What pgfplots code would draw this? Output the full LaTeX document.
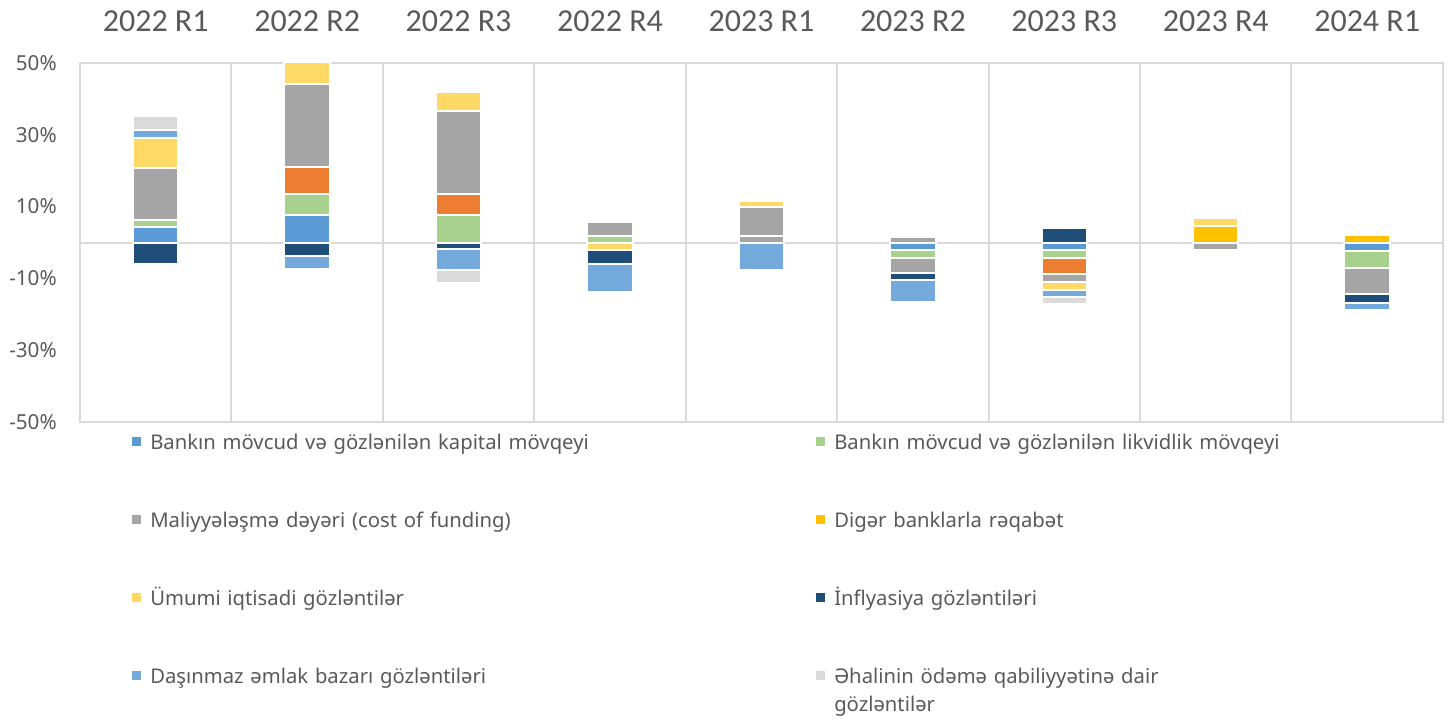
\documentclass[border=0pt]{standalone}
\usepackage{pgfplots}
\pgfplotsset{compat=1.18}
\usepackage{pgfplotstable}
\usepackage{fontspec}
\setmainfont{Noto Sans}
\newfontfamily\carlito{Carlito}
\definecolor{txt}{HTML}{595959}
\definecolor{grd}{HTML}{D9D9D9}
\definecolor{ckap}{HTML}{5B9BD5}
\definecolor{clik}{HTML}{A9D18E}
\definecolor{cora}{HTML}{ED7D31}
\definecolor{ccost}{HTML}{A5A5A5}
\definecolor{creq}{HTML}{FFC000}
\definecolor{cumu}{HTML}{FFD966}
\definecolor{cinf}{HTML}{1F4E79}
\definecolor{cdas}{HTML}{74A9DB}
\definecolor{ceha}{HTML}{DADADA}

\pgfplotstableread{
x kap lik ora cost grb req umu inf das eha
0 4.3 1.9 0 14.6 0 0 8.4 -6.0 2.0 3.9
1 7.6 5.8 7.7 23.1 0 0 6.0 -3.8 -3.7 0
2 0 7.7 5.7 23.1 0 0 5.5 -1.9 -5.8 -3.7
3 0 1.9 0 3.7 0 0 -2.1 -4.0 -7.7 0
4 0 0 0 1.9 8.0 0 1.7 0 -7.7 0
5 -2.2 -2.1 0 1.6 -4.1 0 0 -2.1 -6.1 0
6 -2.2 -2.2 -4.3 -2.2 0 0 -2.2 4.0 -2.1 -1.9
7 0 0 0 -2.1 0 4.7 2.2 0 0 0
8 -2.3 -4.9 0 -7.1 0 2.1 0 -2.5 -2.0 0
}\datatable

\begin{document}
\begin{tikzpicture}
\begin{axis}[
  at={(0,0)}, anchor=south west,
  scale only axis,
  width=1022.25pt, height=269.25pt,
  ybar stacked, stack negative=separate,
  bar width=0.3, bar shift=0pt,
  xmin=-0.5, xmax=8.5, ymin=-50, ymax=50,
  xtick={0,...,8},
  xticklabels={2022 R1,2022 R2,2022 R3,2022 R4,2023 R1,2023 R2,2023 R3,2023 R4,2024 R1},
  xticklabel pos=upper,
  minor xtick={0.5,1.5,...,7.5},
  xminorgrids=true,
  minor x grid style={grd, line width=1.5pt},
  ytick={-50,-30,-10,10,30,50},
  yticklabels={-50\%,-30\%,-10\%,10\%,30\%,50\%},
  extra y ticks={0}, extra y tick labels={},
  extra y tick style={ymajorgrids=true, major grid style={grd, line width=1.5pt}},
  major tick length=0pt, minor tick length=0pt,
  axis line style={grd, line width=1.5pt},
  x tick label style={font=\carlito\fontsize{24}{28}\selectfont, text=txt, anchor=base, inner sep=0pt, yshift=23.25pt},
  y tick label style={font=\fontsize{15.5}{19}\selectfont, text=txt, anchor=east, inner sep=0pt, xshift=-17.25pt},
  every axis plot/.append style={draw=white, line width=1.5pt},
  legend columns=2,
  legend cell align=left,
  legend image code/.code={\fill[#1, draw=none] (0pt,-1.9pt) rectangle (6.75pt,4.85pt);},
  legend style={draw=none, fill=none, at={(0,0)}, anchor=north west, xshift=39pt, yshift=-8.25pt,
    inner sep=0pt, row sep=42.5pt, column sep=6.75pt,
    font=\fontsize{15.2}{21}\selectfont, text=txt,
    nodes={inner sep=0pt, text height=12pt, text depth=4pt, text width=492.75pt, align=left}},
]
\addplot[fill=ckap] table[x=x,y=kap]{\datatable};
\addlegendentry{Bankın mövcud və gözlənilən kapital mövqeyi}
\addplot[fill=clik] table[x=x,y=lik]{\datatable};
\addlegendentry{Bankın mövcud və gözlənilən likvidlik mövqeyi}
\addplot[fill=cora, forget plot] table[x=x,y=ora]{\datatable};
\addplot[fill=ccost] table[x=x,y=cost]{\datatable};
\addlegendentry{Maliyyələşmə dəyəri (cost of funding)}
\addplot[fill=ccost, forget plot] table[x=x,y=grb]{\datatable};
\addplot[fill=creq] table[x=x,y=req]{\datatable};
\addlegendentry{Digər banklarla rəqabət}
\addplot[fill=cumu] table[x=x,y=umu]{\datatable};
\addlegendentry{Ümumi iqtisadi gözləntilər}
\addplot[fill=cinf] table[x=x,y=inf]{\datatable};
\addlegendentry{İnflyasiya gözləntiləri}
\addplot[fill=cdas] table[x=x,y=das]{\datatable};
\addlegendentry{Daşınmaz əmlak bazarı gözləntiləri}
\addplot[fill=ceha] table[x=x,y=eha]{\datatable};
\addlegendentry{\smash{\begin{tabular}[t]{@{}l@{}}Əhalinin ödəmə qabiliyyətinə dair\\gözləntilər\end{tabular}}}
\end{axis}
\pgfresetboundingbox
\path (-60pt,-222.75pt) rectangle (1029pt,316.5pt);
\end{tikzpicture}
\end{document}
